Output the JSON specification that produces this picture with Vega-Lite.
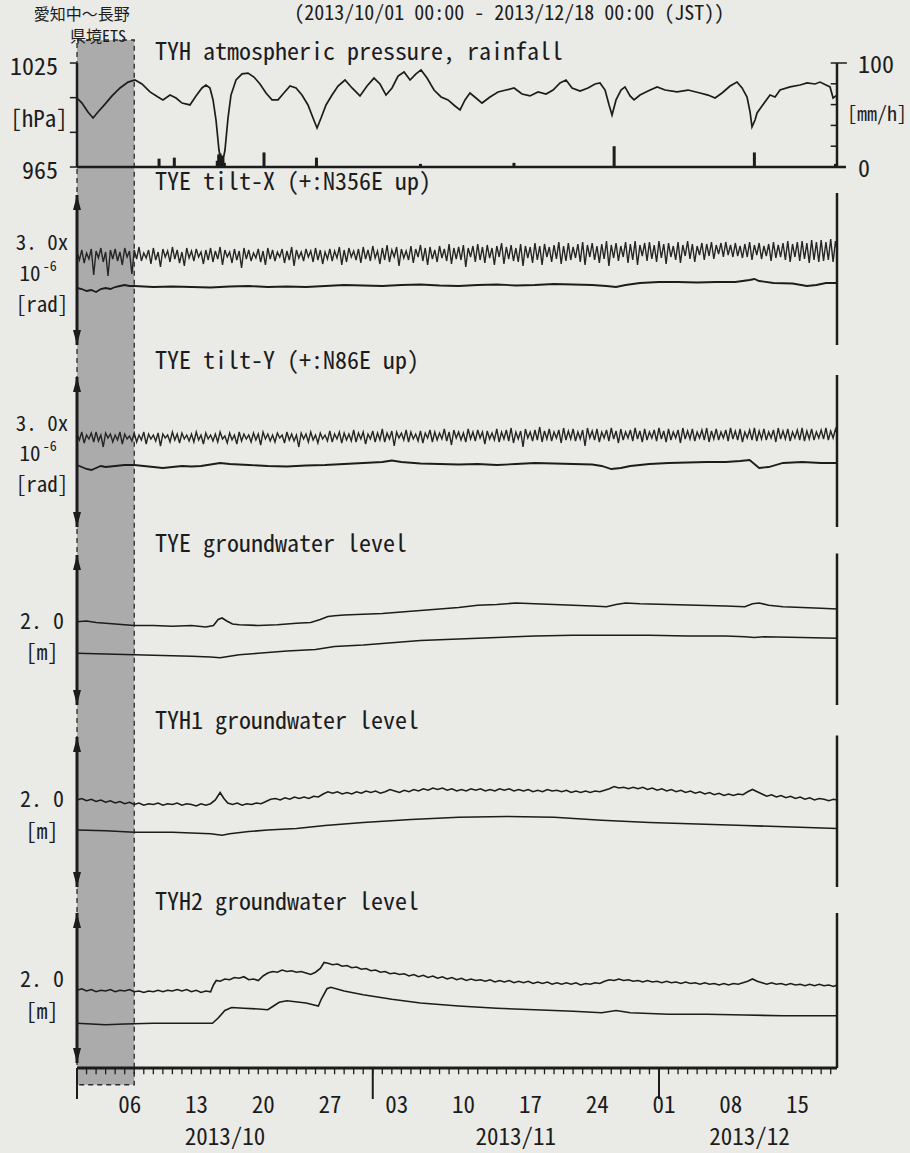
{
"$schema": "https://vega.github.io/schema/vega-lite/v6.json",
"width": 760, "height": 1005,
"autosize": {"type": "none"},
"padding": {"left": 77, "top": 63, "right": 73, "bottom": 85},
"background": "#eaeae7",
"config": {
  "view": {"stroke": null},
  "text": {"font": "Noto Sans Mono CJK JP, DejaVu Sans Mono, monospace", "fontSize": 22, "color": "#1c1c1c"}
},
"data": {"values": [{}]},
"datasets": {
  "ets": [{"d": 0, "d2": 6, "event": "愛知中～長野県境ETS"}],
  "months": [{"d": 0, "mid": 15.5, "m": "2013/10"}, {"d": 31, "mid": 46, "m": "2013/11"}, {"d": 61, "mid": 70.5, "m": "2013/12"}],
  "days": [{"d": 5, "lab": "06"}, {"d": 12, "lab": "13"}, {"d": 19, "lab": "20"}, {"d": 26, "lab": "27"}, {"d": 33, "lab": "03"}, {"d": 40, "lab": "10"}, {"d": 47, "lab": "17"}, {"d": 54, "lab": "24"}, {"d": 61, "lab": "01"}, {"d": 68, "lab": "08"}, {"d": 75, "lab": "15"}],
  "ticks": [{"d":0},{"d":1},{"d":2},{"d":3},{"d":4},{"d":5},{"d":6},{"d":7},{"d":8},{"d":9},{"d":10},{"d":11},{"d":12},{"d":13},{"d":14},{"d":15},{"d":16},{"d":17},{"d":18},{"d":19},{"d":20},{"d":21},{"d":22},{"d":23},{"d":24},{"d":25},{"d":26},{"d":27},{"d":28},{"d":29},{"d":30},{"d":31},{"d":32},{"d":33},{"d":34},{"d":35},{"d":36},{"d":37},{"d":38},{"d":39},{"d":40},{"d":41},{"d":42},{"d":43},{"d":44},{"d":45},{"d":46},{"d":47},{"d":48},{"d":49},{"d":50},{"d":51},{"d":52},{"d":53},{"d":54},{"d":55},{"d":56},{"d":57},{"d":58},{"d":59},{"d":60},{"d":61},{"d":62},{"d":63},{"d":64},{"d":65},{"d":66},{"d":67},{"d":68},{"d":69},{"d":70},{"d":71},{"d":72},{"d":73},{"d":74},{"d":75},{"d":76},{"d":77},{"d":78},{"d":79}],
  "pticks": [{"p": 965, "lab": "965"}, {"p": 985, "lab": ""}, {"p": 1005, "lab": ""}, {"p": 1025, "lab": "1025"}],
  "rticks": [{"r": 0, "lab": "0"}, {"r": 20, "lab": ""}, {"r": 40, "lab": ""}, {"r": 60, "lab": ""}, {"r": 80, "lab": ""}, {"r": 100, "lab": "100"}],
  "press": [
{"d":0,"p":1004.8},{"d":0.52,"p":1001.9},{"d":1.15,"p":996.7},{"d":1.68,"p":993.3},{"d":2.2,"p":996.7},{"d":2.94,"p":1001.3},{"d":3.67,"p":1006.0},{"d":4.51,"p":1010.6},{"d":5.35,"p":1014.0},{"d":6.08,"p":1015.2},{"d":6.81,"p":1012.9},{"d":7.65,"p":1008.3},{"d":8.49,"p":1005.4},{"d":9.01,"p":1003.7},{"d":9.75,"p":1006.5},{"d":10.38,"p":1004.8},{"d":11.01,"p":1001.9},{"d":11.84,"p":1000.8},{"d":12.47,"p":1006.0},{"d":13.1,"p":1010.6},{"d":13.52,"p":1012.3},{"d":13.94,"p":1010.6},{"d":14.26,"p":1003.7},{"d":14.57,"p":992.1},{"d":14.88,"p":974.8},{"d":15.2,"p":965.6},{"d":15.51,"p":974.8},{"d":15.83,"p":993.3},{"d":16.14,"p":1006.5},{"d":16.67,"p":1015.2},{"d":17.3,"p":1018.7},{"d":17.92,"p":1019.2},{"d":18.55,"p":1016.9},{"d":19.18,"p":1012.9},{"d":19.81,"p":1007.7},{"d":20.44,"p":1003.7},{"d":21.07,"p":1003.7},{"d":21.59,"p":1007.1},{"d":22.33,"p":1011.7},{"d":22.96,"p":1010.6},{"d":23.58,"p":1006.5},{"d":24.21,"p":1000.8},{"d":24.74,"p":993.3},{"d":25.16,"p":987.5},{"d":25.58,"p":993.3},{"d":26.1,"p":1000.8},{"d":26.73,"p":1006.5},{"d":27.36,"p":1011.7},{"d":28.09,"p":1015.2},{"d":28.83,"p":1010.6},{"d":29.66,"p":1006.0},{"d":30.4,"p":1011.7},{"d":31.13,"p":1016.3},{"d":31.76,"p":1012.9},{"d":32.39,"p":1006.5},{"d":33.02,"p":1010.6},{"d":33.65,"p":1017.5},{"d":34.28,"p":1019.8},{"d":34.91,"p":1015.2},{"d":35.53,"p":1018.7},{"d":36.06,"p":1021.0},{"d":36.69,"p":1016.3},{"d":37.42,"p":1009.4},{"d":38.16,"p":1005.4},{"d":38.89,"p":1003.7},{"d":39.62,"p":1000.2},{"d":40.15,"p":997.9},{"d":40.67,"p":1003.7},{"d":41.19,"p":1007.7},{"d":41.82,"p":1004.8},{"d":42.45,"p":1001.9},{"d":43.29,"p":1005.4},{"d":44.13,"p":1008.3},{"d":44.97,"p":1009.4},{"d":45.81,"p":1010.6},{"d":46.65,"p":1007.1},{"d":47.48,"p":1006.0},{"d":48.32,"p":1008.3},{"d":49.16,"p":1007.1},{"d":49.9,"p":1009.4},{"d":50.63,"p":1013.5},{"d":51.26,"p":1015.2},{"d":51.89,"p":1010.6},{"d":52.73,"p":1008.8},{"d":53.56,"p":1010.6},{"d":54.3,"p":1012.9},{"d":54.82,"p":1013.5},{"d":55.35,"p":1009.4},{"d":55.77,"p":1000.8},{"d":56.08,"p":995.0},{"d":56.5,"p":1003.7},{"d":57.02,"p":1009.4},{"d":57.44,"p":1011.2},{"d":57.97,"p":1006.0},{"d":58.39,"p":1003.7},{"d":59.01,"p":1006.5},{"d":59.85,"p":1008.8},{"d":60.8,"p":1011.2},{"d":61.64,"p":1009.4},{"d":62.89,"p":1008.3},{"d":64.05,"p":1009.4},{"d":65.3,"p":1007.7},{"d":66.14,"p":1006.5},{"d":66.88,"p":1004.8},{"d":67.61,"p":1007.7},{"d":68.45,"p":1011.7},{"d":69.18,"p":1014.0},{"d":69.71,"p":1010.6},{"d":70.23,"p":1005.4},{"d":70.55,"p":996.7},{"d":70.75,"p":988.1},{"d":71.07,"p":992.1},{"d":71.28,"p":996.2},{"d":71.8,"p":1000.2},{"d":72.64,"p":1006.5},{"d":73.17,"p":1005.4},{"d":73.69,"p":1009.4},{"d":74.74,"p":1011.2},{"d":75.79,"p":1012.3},{"d":76.52,"p":1013.5},{"d":77.36,"p":1012.9},{"d":77.88,"p":1014.0},{"d":78.51,"p":1012.3},{"d":78.93,"p":1011.2},{"d":79.25,"p":1004.8},{"d":79.66,"p":1006.5}],
  "rain": [{"d":8.6,"r":8},{"d":10.2,"r":9},{"d":14.7,"r":6},{"d":14.85,"r":12},{"d":15.0,"r":13},{"d":15.15,"r":11},{"d":15.3,"r":8},{"d":15.45,"r":4},{"d":19.6,"r":14},{"d":25.1,"r":9},{"d":36.0,"r":3},{"d":45.8,"r":4},{"d":56.3,"r":20},{"d":71.0,"r":14},{"d":79.5,"r":3}],
  "fine": [
{"d":0,"tx":186,"ty":186},{"d":0.25,"tx":170,"ty":174},{"d":0.5,"tx":190,"ty":190},{"d":0.75,"tx":164,"ty":168},{"d":1,"tx":184,"ty":184},{"d":1.25,"tx":172,"ty":176},{"d":1.5,"tx":192,"ty":188},{"d":1.75,"tx":140,"ty":170},
{"d":2,"tx":188,"ty":190},{"d":2.25,"tx":174,"ty":172},{"d":2.5,"tx":194,"ty":184},{"d":2.75,"tx":166,"ty":160},{"d":3,"tx":186,"ty":188},{"d":3.25,"tx":138,"ty":178},{"d":3.5,"tx":190,"ty":186},{"d":3.75,"tx":172,"ty":170},
{"d":4,"tx":192,"ty":184},{"d":4.25,"tx":168,"ty":174},{"d":4.5,"tx":186,"ty":190},{"d":4.75,"tx":160,"ty":166},{"d":5,"tx":194,"ty":186},{"d":5.25,"tx":176,"ty":176},{"d":5.5,"tx":188,"ty":182},{"d":5.75,"tx":142,"ty":172},
{"d":6,"tx":190,"ty":188},{"d":6.25,"tx":172,"ty":170},{"d":6.5,"tx":196,"ty":184},{"d":6.75,"tx":168,"ty":174},{"d":7,"tx":184,"ty":190},{"d":7.25,"tx":174,"ty":166},{"d":7.5,"tx":190,"ty":186},{"d":7.75,"tx":162,"ty":176},
{"d":8,"tx":194,"ty":184},{"d":8.25,"tx":170,"ty":172},{"d":8.5,"tx":186,"ty":188},{"d":8.75,"tx":156,"ty":162},{"d":9,"tx":192,"ty":186},{"d":9.25,"tx":176,"ty":178},{"d":9.5,"tx":188,"ty":184},{"d":9.75,"tx":166,"ty":170},
{"d":10,"tx":196,"ty":190},{"d":10.25,"tx":172,"ty":174},{"d":10.5,"tx":190,"ty":186},{"d":10.75,"tx":164,"ty":168},{"d":11,"tx":186,"ty":188},{"d":11.25,"tx":158,"ty":176},{"d":11.5,"tx":194,"ty":184},{"d":11.75,"tx":174,"ty":172},
{"d":12,"tx":188,"ty":186},{"d":12.25,"tx":168,"ty":170},{"d":12.5,"tx":192,"ty":190},{"d":12.75,"tx":176,"ty":174},{"d":13,"tx":186,"ty":184},{"d":13.25,"tx":162,"ty":166},{"d":13.5,"tx":190,"ty":188},{"d":13.75,"tx":170,"ty":176},
{"d":14,"tx":194,"ty":184},{"d":14.25,"tx":166,"ty":172},{"d":14.5,"tx":188,"ty":186},{"d":14.75,"tx":172,"ty":170},{"d":15,"tx":196,"ty":190},{"d":15.25,"tx":160,"ty":176},{"d":15.5,"tx":190,"ty":182},{"d":15.75,"tx":176,"ty":168},
{"d":16,"tx":186,"ty":188},{"d":16.25,"tx":164,"ty":174},{"d":16.5,"tx":192,"ty":184},{"d":16.75,"tx":170,"ty":166},{"d":17,"tx":188,"ty":190},{"d":17.25,"tx":154,"ty":172},{"d":17.5,"tx":194,"ty":186},{"d":17.75,"tx":172,"ty":176},
{"d":18,"tx":190,"ty":184},{"d":18.25,"tx":168,"ty":170},{"d":18.5,"tx":184,"ty":188},{"d":18.75,"tx":174,"ty":174},{"d":19,"tx":192,"ty":186},{"d":19.25,"tx":166,"ty":164},{"d":19.5,"tx":188,"ty":190},{"d":19.75,"tx":160,"ty":176},
{"d":20,"tx":194,"ty":186},{"d":20.25,"tx":172,"ty":172},{"d":20.5,"tx":190,"ty":184},{"d":20.75,"tx":168,"ty":170},{"d":21,"tx":186,"ty":188},{"d":21.25,"tx":176,"ty":178},{"d":21.5,"tx":192,"ty":184},{"d":21.75,"tx":164,"ty":168},
{"d":22,"tx":188,"ty":190},{"d":22.25,"tx":170,"ty":174},{"d":22.5,"tx":196,"ty":186},{"d":22.75,"tx":158,"ty":172},{"d":23,"tx":190,"ty":184},{"d":23.25,"tx":174,"ty":160},{"d":23.5,"tx":186,"ty":188},{"d":23.75,"tx":168,"ty":176},
{"d":24,"tx":192,"ty":186},{"d":24.25,"tx":176,"ty":170},{"d":24.5,"tx":188,"ty":190},{"d":24.75,"tx":166,"ty":174},{"d":25,"tx":194,"ty":184},{"d":25.25,"tx":170,"ty":168},{"d":25.5,"tx":190,"ty":188},{"d":25.75,"tx":162,"ty":176},
{"d":26,"tx":186,"ty":184},{"d":26.25,"tx":172,"ty":172},{"d":26.5,"tx":192,"ty":192},{"d":26.75,"tx":168,"ty":170},{"d":27,"tx":188,"ty":186},{"d":27.25,"tx":174,"ty":176},{"d":27.5,"tx":196,"ty":190},{"d":27.75,"tx":160,"ty":168},
{"d":28,"tx":190,"ty":188},{"d":28.25,"tx":166,"ty":174},{"d":28.5,"tx":194,"ty":186},{"d":28.75,"tx":176,"ty":172},{"d":29,"tx":188,"ty":194},{"d":29.25,"tx":170,"ty":170},{"d":29.5,"tx":192,"ty":188},{"d":29.75,"tx":164,"ty":176},
{"d":30,"tx":196,"ty":190},{"d":30.25,"tx":172,"ty":166},{"d":30.5,"tx":190,"ty":186},{"d":30.75,"tx":168,"ty":176},{"d":31,"tx":198,"ty":192},{"d":31.25,"tx":174,"ty":170},{"d":31.5,"tx":188,"ty":188},{"d":31.75,"tx":162,"ty":174},
{"d":32,"tx":194,"ty":196},{"d":32.25,"tx":170,"ty":170},{"d":32.5,"tx":200,"ty":188},{"d":32.75,"tx":166,"ty":176},{"d":33,"tx":190,"ty":192},{"d":33.25,"tx":176,"ty":162},{"d":33.5,"tx":196,"ty":190},{"d":33.75,"tx":158,"ty":178},
{"d":34,"tx":192,"ty":188},{"d":34.25,"tx":174,"ty":174},{"d":34.5,"tx":188,"ty":194},{"d":34.75,"tx":170,"ty":170},{"d":35,"tx":198,"ty":190},{"d":35.25,"tx":164,"ty":176},{"d":35.5,"tx":192,"ty":186},{"d":35.75,"tx":176,"ty":172},
{"d":36,"tx":200,"ty":192},{"d":36.25,"tx":168,"ty":168},{"d":36.5,"tx":194,"ty":188},{"d":36.75,"tx":160,"ty":178},{"d":37,"tx":196,"ty":194},{"d":37.25,"tx":172,"ty":170},{"d":37.5,"tx":190,"ty":190},{"d":37.75,"tx":166,"ty":174},
{"d":38,"tx":198,"ty":188},{"d":38.25,"tx":174,"ty":176},{"d":38.5,"tx":192,"ty":196},{"d":38.75,"tx":168,"ty":172},{"d":39,"tx":202,"ty":190},{"d":39.25,"tx":162,"ty":164},{"d":39.5,"tx":194,"ty":194},{"d":39.75,"tx":172,"ty":178},
{"d":40,"tx":196,"ty":190},{"d":40.25,"tx":170,"ty":174},{"d":40.5,"tx":200,"ty":188},{"d":40.75,"tx":156,"ty":170},{"d":41,"tx":194,"ty":196},{"d":41.25,"tx":176,"ty":176},{"d":41.5,"tx":198,"ty":190},{"d":41.75,"tx":166,"ty":172},
{"d":42,"tx":202,"ty":194},{"d":42.25,"tx":170,"ty":178},{"d":42.5,"tx":196,"ty":190},{"d":42.75,"tx":164,"ty":166},{"d":43,"tx":200,"ty":192},{"d":43.25,"tx":174,"ty":176},{"d":43.5,"tx":194,"ty":188},{"d":43.75,"tx":160,"ty":174},
{"d":44,"tx":198,"ty":196},{"d":44.25,"tx":176,"ty":170},{"d":44.5,"tx":204,"ty":190},{"d":44.75,"tx":162,"ty":176},{"d":45,"tx":196,"ty":194},{"d":45.25,"tx":172,"ty":172},{"d":45.5,"tx":200,"ty":198},{"d":45.75,"tx":168,"ty":168},
{"d":46,"tx":194,"ty":190},{"d":46.25,"tx":166,"ty":176},{"d":46.5,"tx":202,"ty":192},{"d":46.75,"tx":158,"ty":160},{"d":47,"tx":198,"ty":196},{"d":47.25,"tx":174,"ty":178},{"d":47.5,"tx":196,"ty":190},{"d":47.75,"tx":164,"ty":172},
{"d":48,"tx":204,"ty":194},{"d":48.25,"tx":170,"ty":174},{"d":48.5,"tx":198,"ty":200},{"d":48.75,"tx":160,"ty":170},{"d":49,"tx":202,"ty":192},{"d":49.25,"tx":176,"ty":176},{"d":49.5,"tx":196,"ty":196},{"d":49.75,"tx":166,"ty":172},
{"d":50,"tx":200,"ty":190},{"d":50.25,"tx":172,"ty":178},{"d":50.5,"tx":206,"ty":194},{"d":50.75,"tx":162,"ty":168},{"d":51,"tx":198,"ty":198},{"d":51.25,"tx":168,"ty":174},{"d":51.5,"tx":204,"ty":192},{"d":51.75,"tx":170,"ty":176},
{"d":52,"tx":196,"ty":196},{"d":52.25,"tx":174,"ty":172},{"d":52.5,"tx":202,"ty":190},{"d":52.75,"tx":166,"ty":176},{"d":53,"tx":206,"ty":194},{"d":53.25,"tx":160,"ty":162},{"d":53.5,"tx":200,"ty":198},{"d":53.75,"tx":176,"ty":178},
{"d":54,"tx":204,"ty":192},{"d":54.25,"tx":170,"ty":174},{"d":54.5,"tx":198,"ty":196},{"d":54.75,"tx":164,"ty":170},{"d":55,"tx":202,"ty":190},{"d":55.25,"tx":172,"ty":178},{"d":55.5,"tx":208,"ty":194},{"d":55.75,"tx":158,"ty":172},
{"d":56,"tx":200,"ty":198},{"d":56.25,"tx":174,"ty":176},{"d":56.5,"tx":204,"ty":192},{"d":56.75,"tx":168,"ty":168},{"d":57,"tx":198,"ty":196},{"d":57.25,"tx":176,"ty":174},{"d":57.5,"tx":206,"ty":190},{"d":57.75,"tx":164,"ty":178},
{"d":58,"tx":202,"ty":194},{"d":58.25,"tx":170,"ty":172},{"d":58.5,"tx":208,"ty":198},{"d":58.75,"tx":160,"ty":176},{"d":59,"tx":200,"ty":192},{"d":59.25,"tx":178,"ty":170},{"d":59.5,"tx":204,"ty":196},{"d":59.75,"tx":168,"ty":174},
{"d":60,"tx":206,"ty":190},{"d":60.25,"tx":172,"ty":178},{"d":60.5,"tx":200,"ty":194},{"d":60.75,"tx":166,"ty":172},{"d":61,"tx":208,"ty":198},{"d":61.25,"tx":174,"ty":176},{"d":61.5,"tx":202,"ty":192},{"d":61.75,"tx":162,"ty":170},
{"d":62,"tx":204,"ty":196},{"d":62.25,"tx":176,"ty":174},{"d":62.5,"tx":198,"ty":190},{"d":62.75,"tx":170,"ty":178},{"d":63,"tx":206,"ty":194},{"d":63.25,"tx":164,"ty":168},{"d":63.5,"tx":200,"ty":198},{"d":63.75,"tx":178,"ty":176},
{"d":64,"tx":208,"ty":192},{"d":64.25,"tx":172,"ty":176},{"d":64.5,"tx":202,"ty":196},{"d":64.75,"tx":166,"ty":172},{"d":65,"tx":198,"ty":190},{"d":65.25,"tx":180,"ty":178},{"d":65.5,"tx":204,"ty":194},{"d":65.75,"tx":170,"ty":174},
{"d":66,"tx":202,"ty":198},{"d":66.25,"tx":178,"ty":170},{"d":66.5,"tx":206,"ty":192},{"d":66.75,"tx":172,"ty":176},{"d":67,"tx":200,"ty":196},{"d":67.25,"tx":182,"ty":174},{"d":67.5,"tx":204,"ty":190},{"d":67.75,"tx":176,"ty":178},
{"d":68,"tx":206,"ty":194},{"d":68.25,"tx":180,"ty":172},{"d":68.5,"tx":200,"ty":198},{"d":68.75,"tx":176,"ty":176},{"d":69,"tx":204,"ty":192},{"d":69.25,"tx":178,"ty":174},{"d":69.5,"tx":198,"ty":196},{"d":69.75,"tx":174,"ty":170},
{"d":70,"tx":202,"ty":190},{"d":70.25,"tx":176,"ty":178},{"d":70.5,"tx":206,"ty":194},{"d":70.75,"tx":170,"ty":174},{"d":71,"tx":200,"ty":198},{"d":71.25,"tx":180,"ty":172},{"d":71.5,"tx":204,"ty":192},{"d":71.75,"tx":172,"ty":176},
{"d":72,"tx":198,"ty":196},{"d":72.25,"tx":178,"ty":174},{"d":72.5,"tx":202,"ty":190},{"d":72.75,"tx":168,"ty":178},{"d":73,"tx":206,"ty":194},{"d":73.25,"tx":174,"ty":170},{"d":73.5,"tx":200,"ty":198},{"d":73.75,"tx":176,"ty":176},
{"d":74,"tx":204,"ty":192},{"d":74.25,"tx":170,"ty":176},{"d":74.5,"tx":208,"ty":196},{"d":74.75,"tx":166,"ty":172},{"d":75,"tx":202,"ty":190},{"d":75.25,"tx":176,"ty":178},{"d":75.5,"tx":206,"ty":194},{"d":75.75,"tx":168,"ty":174},
{"d":76,"tx":208,"ty":198},{"d":76.25,"tx":172,"ty":172},{"d":76.5,"tx":204,"ty":192},{"d":76.75,"tx":164,"ty":176},{"d":77,"tx":210,"ty":196},{"d":77.25,"tx":170,"ty":174},{"d":77.5,"tx":206,"ty":190},{"d":77.75,"tx":166,"ty":178},
{"d":78,"tx":210,"ty":194},{"d":78.25,"tx":168,"ty":176},{"d":78.5,"tx":206,"ty":198},{"d":78.75,"tx":170,"ty":174},{"d":79,"tx":212,"ty":192},{"d":79.25,"tx":166,"ty":178},{"d":79.5,"tx":208,"ty":196},{"d":79.66,"tx":190,"ty":186}],
  "tsx": [{"d":0,"v":114},{"d":0.5,"v":112},{"d":1,"v":108},{"d":1.5,"v":110},{"d":2,"v":106},{"d":2.5,"v":112},{"d":3,"v":114},{"d":3.5,"v":112},{"d":4,"v":116},{"d":4.5,"v":118},{"d":5,"v":120},{"d":5.5,"v":118},{"d":6,"v":118},{"d":8,"v":116},{"d":10,"v":117},{"d":12,"v":116},{"d":14,"v":115},{"d":16,"v":117},{"d":18,"v":118},{"d":20,"v":116},{"d":22,"v":117},{"d":24,"v":116},{"d":26,"v":118},{"d":28,"v":120},{"d":30,"v":119},{"d":32,"v":118},{"d":34,"v":120},{"d":36,"v":121},{"d":38,"v":119},{"d":40,"v":118},{"d":42,"v":120},{"d":44,"v":121},{"d":46,"v":119},{"d":48,"v":120},{"d":50,"v":122},{"d":52,"v":121},{"d":54,"v":120},{"d":55.5,"v":118},{"d":56.5,"v":116},{"d":57.5,"v":120},{"d":59,"v":124},{"d":61,"v":126},{"d":63,"v":126},{"d":65,"v":125},{"d":67,"v":126},{"d":69,"v":126},{"d":70.5,"v":130},{"d":71,"v":132},{"d":71.5,"v":128},{"d":73,"v":124},{"d":75,"v":123},{"d":76.5,"v":118},{"d":77.5,"v":120},{"d":78.5,"v":124},{"d":79.66,"v":124}],
  "tsy": [{"d":0,"v":124},{"d":0.5,"v":120},{"d":1,"v":116},{"d":1.5,"v":114},{"d":2,"v":118},{"d":2.5,"v":122},{"d":3,"v":120},{"d":4,"v":122},{"d":5,"v":124},{"d":6,"v":124},{"d":7,"v":122},{"d":8,"v":120},{"d":9,"v":118},{"d":10,"v":120},{"d":11,"v":122},{"d":12,"v":121},{"d":13,"v":122},{"d":14,"v":125},{"d":15,"v":128},{"d":16,"v":126},{"d":18,"v":124},{"d":20,"v":122},{"d":22,"v":121},{"d":24,"v":123},{"d":26,"v":124},{"d":28,"v":126},{"d":30,"v":128},{"d":32,"v":130},{"d":33,"v":133},{"d":34,"v":130},{"d":36,"v":127},{"d":38,"v":126},{"d":40,"v":125},{"d":42,"v":126},{"d":44,"v":124},{"d":46,"v":126},{"d":48,"v":128},{"d":50,"v":127},{"d":52,"v":126},{"d":54,"v":125},{"d":55,"v":122},{"d":56,"v":116},{"d":57,"v":118},{"d":58,"v":122},{"d":60,"v":126},{"d":62,"v":128},{"d":64,"v":129},{"d":66,"v":130},{"d":68,"v":130},{"d":69.5,"v":132},{"d":70.5,"v":134},{"d":71.5,"v":118},{"d":72.5,"v":120},{"d":74,"v":128},{"d":76,"v":130},{"d":78,"v":128},{"d":79.66,"v":128}],
  "tyeu": [{"d":0,"v":111},{"d":1,"v":112},{"d":2,"v":110},{"d":3,"v":109},{"d":4,"v":108},{"d":5,"v":107},{"d":6,"v":106},{"d":8,"v":106},{"d":10,"v":105},{"d":12,"v":106},{"d":13.5,"v":104},{"d":14.3,"v":106},{"d":14.8,"v":114},{"d":15.2,"v":116},{"d":15.7,"v":112},{"d":16.3,"v":108},{"d":17,"v":107},{"d":19,"v":106},{"d":21,"v":107},{"d":23,"v":109},{"d":24.5,"v":110},{"d":25.5,"v":114},{"d":26.3,"v":118},{"d":27,"v":119},{"d":28,"v":120},{"d":30,"v":121},{"d":32,"v":122},{"d":34,"v":124},{"d":36,"v":126},{"d":38,"v":128},{"d":40,"v":130},{"d":42,"v":133},{"d":44,"v":134},{"d":46,"v":136},{"d":48,"v":135},{"d":50,"v":134},{"d":52,"v":133},{"d":54,"v":132},{"d":55.5,"v":131},{"d":56.5,"v":134},{"d":57.5,"v":136},{"d":59,"v":135},{"d":62,"v":134},{"d":65,"v":133},{"d":68,"v":132},{"d":70,"v":131},{"d":70.8,"v":135},{"d":71.5,"v":136},{"d":72.5,"v":133},{"d":74,"v":131},{"d":76,"v":130},{"d":78,"v":129},{"d":79.66,"v":128}],
  "tyel": [{"d":0,"v":69},{"d":3,"v":68},{"d":6,"v":67},{"d":9,"v":66},{"d":12,"v":65},{"d":14,"v":64},{"d":15,"v":63},{"d":15.5,"v":64},{"d":17,"v":67},{"d":19,"v":69},{"d":22,"v":72},{"d":25,"v":74},{"d":27,"v":78},{"d":30,"v":80},{"d":33,"v":83},{"d":36,"v":86},{"d":40,"v":88},{"d":44,"v":90},{"d":48,"v":92},{"d":52,"v":93},{"d":56,"v":93},{"d":60,"v":93},{"d":64,"v":92},{"d":68,"v":92},{"d":70,"v":91},{"d":71,"v":90},{"d":72,"v":91},{"d":76,"v":90},{"d":79.66,"v":89}],
  "h1u": [{"d":0,"v":116},{"d":0.5,"v":118},{"d":1,"v":115},{"d":1.5,"v":117},{"d":2,"v":114},{"d":2.5,"v":116},{"d":3,"v":113},{"d":3.5,"v":115},{"d":4,"v":112},{"d":4.5,"v":114},{"d":5,"v":111},{"d":5.5,"v":113},{"d":6,"v":110},{"d":6.5,"v":112},{"d":7,"v":109},{"d":7.5,"v":111},{"d":8,"v":110},{"d":8.5,"v":112},{"d":9,"v":109},{"d":9.5,"v":111},{"d":10,"v":110},{"d":10.5,"v":112},{"d":11,"v":109},{"d":11.5,"v":111},{"d":12,"v":110},{"d":12.5,"v":108},{"d":13,"v":111},{"d":13.5,"v":109},{"d":14,"v":111},{"d":14.5,"v":116},{"d":15,"v":126},{"d":15.4,"v":118},{"d":15.8,"v":112},{"d":16.3,"v":110},{"d":16.8,"v":112},{"d":17.3,"v":109},{"d":17.8,"v":111},{"d":18.3,"v":110},{"d":18.8,"v":112},{"d":19.3,"v":111},{"d":19.8,"v":114},{"d":20.3,"v":117},{"d":20.8,"v":118},{"d":21.3,"v":116},{"d":21.8,"v":119},{"d":22.3,"v":117},{"d":22.8,"v":120},{"d":23.3,"v":118},{"d":23.8,"v":120},{"d":24.3,"v":118},{"d":24.8,"v":121},{"d":25.3,"v":120},{"d":25.8,"v":124},{"d":26.3,"v":127},{"d":26.8,"v":125},{"d":27.3,"v":127},{"d":27.8,"v":124},{"d":28.3,"v":126},{"d":28.8,"v":124},{"d":29.3,"v":127},{"d":29.8,"v":125},{"d":30.3,"v":128},{"d":30.8,"v":126},{"d":31.3,"v":128},{"d":31.8,"v":125},{"d":32.3,"v":127},{"d":32.8,"v":130},{"d":33.3,"v":128},{"d":33.8,"v":126},{"d":34.3,"v":129},{"d":34.8,"v":127},{"d":35.3,"v":130},{"d":35.8,"v":128},{"d":36.3,"v":131},{"d":36.8,"v":129},{"d":37.3,"v":132},{"d":37.8,"v":130},{"d":38.3,"v":132},{"d":38.8,"v":129},{"d":39.3,"v":131},{"d":39.8,"v":128},{"d":40.3,"v":130},{"d":40.8,"v":128},{"d":41.3,"v":131},{"d":41.8,"v":129},{"d":42.3,"v":131},{"d":42.8,"v":128},{"d":43.3,"v":130},{"d":43.8,"v":128},{"d":44.3,"v":131},{"d":44.8,"v":129},{"d":45.3,"v":131},{"d":45.8,"v":128},{"d":46.3,"v":130},{"d":46.8,"v":128},{"d":47.3,"v":130},{"d":47.8,"v":127},{"d":48.3,"v":129},{"d":48.8,"v":127},{"d":49.3,"v":130},{"d":49.8,"v":128},{"d":50.3,"v":129},{"d":50.8,"v":127},{"d":51.3,"v":129},{"d":51.8,"v":126},{"d":52.3,"v":128},{"d":52.8,"v":126},{"d":53.3,"v":128},{"d":53.8,"v":126},{"d":54.3,"v":128},{"d":54.8,"v":127},{"d":55.3,"v":129},{"d":55.8,"v":131},{"d":56.3,"v":134},{"d":56.8,"v":132},{"d":57.3,"v":133},{"d":57.8,"v":131},{"d":58.3,"v":133},{"d":58.8,"v":131},{"d":59.3,"v":133},{"d":59.8,"v":130},{"d":60.3,"v":132},{"d":60.8,"v":129},{"d":61.3,"v":131},{"d":61.8,"v":128},{"d":62.3,"v":130},{"d":62.8,"v":127},{"d":63.3,"v":129},{"d":63.8,"v":126},{"d":64.3,"v":128},{"d":64.8,"v":125},{"d":65.3,"v":127},{"d":65.8,"v":124},{"d":66.3,"v":126},{"d":66.8,"v":123},{"d":67.3,"v":125},{"d":67.8,"v":122},{"d":68.3,"v":124},{"d":68.8,"v":122},{"d":69.3,"v":124},{"d":69.8,"v":123},{"d":70.3,"v":127},{"d":70.8,"v":130},{"d":71.3,"v":127},{"d":71.8,"v":124},{"d":72.3,"v":121},{"d":72.8,"v":123},{"d":73.3,"v":120},{"d":73.8,"v":122},{"d":74.3,"v":119},{"d":74.8,"v":121},{"d":75.3,"v":118},{"d":75.8,"v":120},{"d":76.3,"v":117},{"d":76.8,"v":119},{"d":77.3,"v":116},{"d":77.8,"v":118},{"d":78.3,"v":117},{"d":78.8,"v":115},{"d":79.3,"v":117},{"d":79.66,"v":116}],
  "h1l": [{"d":0,"v":76},{"d":3,"v":75},{"d":6,"v":73},{"d":10,"v":73},{"d":14,"v":71},{"d":15.2,"v":69},{"d":16,"v":71},{"d":18,"v":74},{"d":20,"v":76},{"d":23,"v":78},{"d":26,"v":82},{"d":30,"v":86},{"d":35,"v":90},{"d":40,"v":93},{"d":45,"v":94},{"d":50,"v":93},{"d":55,"v":89},{"d":60,"v":86},{"d":65,"v":84},{"d":70,"v":82},{"d":75,"v":80},{"d":79.66,"v":78}],
  "h2u": [{"d":0,"v":97},{"d":0.5,"v":99},{"d":1,"v":96},{"d":1.5,"v":98},{"d":2,"v":95},{"d":2.5,"v":97},{"d":3,"v":96},{"d":3.5,"v":98},{"d":4,"v":95},{"d":4.5,"v":97},{"d":5,"v":96},{"d":5.5,"v":98},{"d":6,"v":95},{"d":6.5,"v":96},{"d":7,"v":94},{"d":7.5,"v":96},{"d":8,"v":95},{"d":8.5,"v":97},{"d":9,"v":95},{"d":9.5,"v":97},{"d":10,"v":96},{"d":10.5,"v":98},{"d":11,"v":96},{"d":11.5,"v":98},{"d":12,"v":95},{"d":12.5,"v":97},{"d":13,"v":94},{"d":13.5,"v":96},{"d":14,"v":95},{"d":14.3,"v":104},{"d":14.6,"v":110},{"d":15,"v":109},{"d":15.5,"v":112},{"d":16,"v":111},{"d":16.5,"v":114},{"d":17,"v":113},{"d":17.5,"v":115},{"d":18,"v":111},{"d":18.5,"v":112},{"d":19,"v":110},{"d":19.5,"v":116},{"d":20,"v":120},{"d":20.5,"v":122},{"d":21,"v":121},{"d":21.5,"v":124},{"d":22,"v":122},{"d":22.5,"v":123},{"d":23,"v":121},{"d":23.5,"v":122},{"d":24,"v":120},{"d":24.5,"v":118},{"d":25,"v":121},{"d":25.5,"v":126},{"d":25.9,"v":134},{"d":26.3,"v":133},{"d":26.8,"v":131},{"d":27.3,"v":132},{"d":27.8,"v":129},{"d":28.3,"v":130},{"d":28.8,"v":127},{"d":29.3,"v":128},{"d":29.8,"v":125},{"d":30.3,"v":126},{"d":30.8,"v":123},{"d":31.3,"v":124},{"d":31.8,"v":121},{"d":32.3,"v":122},{"d":32.8,"v":119},{"d":33.3,"v":120},{"d":33.8,"v":118},{"d":34.3,"v":119},{"d":34.8,"v":116},{"d":35.3,"v":118},{"d":35.8,"v":115},{"d":36.3,"v":117},{"d":36.8,"v":114},{"d":37.3,"v":116},{"d":37.8,"v":113},{"d":38.3,"v":115},{"d":38.8,"v":112},{"d":39.3,"v":114},{"d":39.8,"v":111},{"d":40.3,"v":113},{"d":40.8,"v":110},{"d":41.3,"v":112},{"d":41.8,"v":110},{"d":42.3,"v":111},{"d":42.8,"v":109},{"d":43.3,"v":111},{"d":43.8,"v":108},{"d":44.3,"v":110},{"d":44.8,"v":108},{"d":45.3,"v":110},{"d":45.8,"v":107},{"d":46.3,"v":109},{"d":46.8,"v":107},{"d":47.3,"v":109},{"d":47.8,"v":106},{"d":48.3,"v":108},{"d":48.8,"v":106},{"d":49.3,"v":108},{"d":49.8,"v":105},{"d":50.3,"v":107},{"d":50.8,"v":105},{"d":51.3,"v":107},{"d":51.8,"v":105},{"d":52.3,"v":107},{"d":52.8,"v":104},{"d":53.3,"v":106},{"d":53.8,"v":105},{"d":54.3,"v":107},{"d":54.8,"v":106},{"d":55.3,"v":109},{"d":55.8,"v":111},{"d":56.3,"v":110},{"d":56.8,"v":112},{"d":57.3,"v":110},{"d":57.8,"v":111},{"d":58.3,"v":109},{"d":58.8,"v":110},{"d":59.3,"v":108},{"d":59.8,"v":110},{"d":60.3,"v":108},{"d":60.8,"v":109},{"d":61.3,"v":107},{"d":61.8,"v":109},{"d":62.3,"v":107},{"d":62.8,"v":108},{"d":63.3,"v":106},{"d":63.8,"v":108},{"d":64.3,"v":106},{"d":64.8,"v":107},{"d":65.3,"v":105},{"d":65.8,"v":107},{"d":66.3,"v":105},{"d":66.8,"v":106},{"d":67.3,"v":104},{"d":67.8,"v":106},{"d":68.3,"v":104},{"d":68.8,"v":106},{"d":69.3,"v":105},{"d":69.8,"v":107},{"d":70.3,"v":109},{"d":70.8,"v":112},{"d":71.3,"v":109},{"d":71.8,"v":107},{"d":72.3,"v":105},{"d":72.8,"v":107},{"d":73.3,"v":105},{"d":73.8,"v":106},{"d":74.3,"v":104},{"d":74.8,"v":106},{"d":75.3,"v":104},{"d":75.8,"v":105},{"d":76.3,"v":103},{"d":76.8,"v":105},{"d":77.3,"v":103},{"d":77.8,"v":105},{"d":78.3,"v":103},{"d":78.8,"v":104},{"d":79.3,"v":102},{"d":79.66,"v":104}],
  "h2l": [{"d":0,"v":53},{"d":1.5,"v":52},{"d":3,"v":51},{"d":5,"v":52},{"d":8,"v":53},{"d":11,"v":53},{"d":13,"v":53},{"d":14.2,"v":53},{"d":14.8,"v":60},{"d":15.5,"v":70},{"d":16.2,"v":74},{"d":17.5,"v":73},{"d":19,"v":72},{"d":20,"v":71},{"d":20.6,"v":76},{"d":21.2,"v":81},{"d":22,"v":83},{"d":24,"v":80},{"d":25.3,"v":76},{"d":25.6,"v":85},{"d":26.2,"v":99},{"d":26.6,"v":101},{"d":28,"v":96},{"d":30,"v":91},{"d":33,"v":85},{"d":36,"v":80},{"d":40,"v":76},{"d":44,"v":73},{"d":48,"v":71},{"d":52,"v":69},{"d":55,"v":67},{"d":56.5,"v":70},{"d":58,"v":67},{"d":62,"v":65},{"d":66,"v":65},{"d":70,"v":64},{"d":74,"v":63},{"d":79.66,"v":63}]
},
"layer": [
  {"layer": [
    {"data": {"name": "ets"}, "mark": {"type": "rect", "fill": "#ababab", "stroke": "#2a2a2a", "strokeDash": [5, 4], "strokeWidth": 1.3},
     "encoding": {
       "x": {"field": "d", "type": "quantitative", "scale": {"domain": [0, 79.66], "nice": false, "zero": false}, "axis": null},
       "x2": {"field": "d2"},
       "y": {"datum": 1364, "type": "quantitative", "scale": {"domain": [-6.67, 1333.33], "nice": false, "zero": false}, "axis": null},
       "y2": {"datum": -29}}},
    {"mark": {"type": "rule", "strokeWidth": 3, "color": "#1c1c1c"},
     "encoding": {"x": {"datum": 0, "axis": null}, "x2": {"datum": 79.66}, "y": {"datum": -6.67, "axis": null}}},
    {"data": {"name": "ticks"}, "mark": {"type": "rule", "strokeWidth": 1.3, "color": "#1c1c1c"},
     "encoding": {"x": {"field": "d", "type": "quantitative", "axis": null}, "y": {"datum": -6.67, "axis": null}, "y2": {"datum": -15}}},
    {"data": {"name": "months"}, "mark": {"type": "rule", "strokeWidth": 2, "color": "#1c1c1c"},
     "encoding": {"x": {"field": "d", "type": "quantitative", "axis": null}, "y": {"datum": -6.67, "axis": null}, "y2": {"datum": -48}}},
    {"data": {"name": "months"}, "mark": {"type": "text", "fontSize": 23, "baseline": "middle"},
     "encoding": {"x": {"field": "mid", "type": "quantitative", "axis": null}, "y": {"datum": -100, "axis": null}, "text": {"field": "m"}}},
    {"data": {"name": "days"}, "mark": {"type": "text", "fontSize": 23, "baseline": "middle", "dx": 5},
     "encoding": {"x": {"field": "d", "type": "quantitative", "axis": null}, "y": {"datum": -57, "axis": null}, "text": {"field": "lab"}}}
  ]},
  {"layer": [
    {"data": {"name": "press"}, "mark": {"type": "line", "color": "#1c1c1c", "strokeWidth": 1.7},
     "encoding": {"x": {"field": "d", "type": "quantitative", "axis": null},
       "y": {"field": "p", "type": "quantitative", "scale": {"domain": [445.2, 1025], "nice": false, "zero": false}, "axis": null}}},
    {"data": {"name": "pticks"}, "mark": {"type": "rule", "strokeWidth": 1.5, "color": "#1c1c1c"},
     "encoding": {"x": {"datum": -0.75, "axis": null}, "x2": {"datum": 0}, "y": {"field": "p", "type": "quantitative", "axis": null}}},
    {"data": {"name": "pticks"}, "mark": {"type": "text", "align": "right", "baseline": "middle", "fontSize": 24, "dy": 5},
     "encoding": {"x": {"datum": -1.99, "axis": null}, "y": {"field": "p", "type": "quantitative", "axis": null}, "text": {"field": "lab"}}},
    {"mark": {"type": "rule", "strokeWidth": 2.5, "color": "#1c1c1c"},
     "encoding": {"x": {"datum": 0, "axis": null}, "y": {"datum": 965, "axis": null}, "y2": {"datum": 1025}}},
    {"mark": {"type": "rule", "strokeWidth": 2.5, "color": "#1c1c1c"},
     "encoding": {"x": {"datum": 0, "axis": null}, "x2": {"datum": 80.6}, "y": {"datum": 965, "axis": null}}},
    {"mark": {"type": "text", "text": "[hPa]", "align": "center", "baseline": "middle", "fontSize": 23},
     "encoding": {"x": {"datum": -3.98, "axis": null}, "y": {"datum": 992.1, "axis": null}}},
    {"mark": {"type": "text", "text": "(2013/10/01 00:00 - 2013/12/18 00:00 (JST))", "align": "center", "baseline": "top", "fontSize": 20},
     "encoding": {"x": {"datum": 45.3, "axis": null}, "y": {"datum": 1059, "axis": null}}},
    {"mark": {"type": "text", "text": "愛知中～長野", "align": "center", "baseline": "middle", "fontSize": 16},
     "encoding": {"x": {"datum": 0.5, "axis": null}, "y": {"datum": 1052.7, "axis": null}}},
    {"mark": {"type": "text", "text": "県境ETS", "align": "center", "baseline": "middle", "fontSize": 16},
     "encoding": {"x": {"datum": 2.2, "axis": null}, "y": {"datum": 1040, "axis": null}}},
    {"mark": {"type": "text", "text": "TYH atmospheric pressure, rainfall", "align": "left", "baseline": "middle", "fontSize": 24},
     "encoding": {"x": {"datum": 8.18, "axis": null}, "y": {"datum": 1030.8, "axis": null}}}
  ]},
  {"layer": [
    {"data": {"name": "rain"}, "mark": {"type": "rule", "strokeWidth": 3, "color": "#1c1c1c"},
     "encoding": {"x": {"field": "d", "type": "quantitative", "axis": null},
       "y": {"field": "r", "type": "quantitative", "scale": {"domain": [-866.3, 100], "nice": false, "zero": false}, "axis": null},
       "y2": {"datum": 0}}},
    {"data": {"name": "rticks"}, "mark": {"type": "rule", "strokeWidth": 1.5, "color": "#1c1c1c"},
     "encoding": {"x": {"datum": 79.0, "axis": null}, "x2": {"datum": 79.66}, "y": {"field": "r", "type": "quantitative", "axis": null}}},
    {"data": {"name": "rticks"}, "mark": {"type": "text", "align": "left", "baseline": "middle", "fontSize": 24, "dy": 3},
     "encoding": {"x": {"datum": 81.87, "axis": null}, "y": {"field": "r", "type": "quantitative", "axis": null}, "text": {"field": "lab"}}},
    {"mark": {"type": "rule", "strokeWidth": 1.5, "color": "#1c1c1c"},
     "encoding": {"x": {"datum": 79.66, "axis": null}, "x2": {"datum": 80.7}, "y": {"datum": 100, "axis": null}}},
    {"mark": {"type": "rule", "strokeWidth": 2.5, "color": "#1c1c1c"},
     "encoding": {"x": {"datum": 79.66, "axis": null}, "y": {"datum": 0, "axis": null}, "y2": {"datum": 100}}},
    {"mark": {"type": "text", "text": "[mm/h]", "align": "left", "baseline": "middle", "fontSize": 20},
     "encoding": {"x": {"datum": 80.7, "axis": null}, "y": {"datum": 50, "axis": null}}}
  ]},
  {"layer": [
    {"data": {"name": "fine"}, "mark": {"type": "line", "color": "#262626", "strokeWidth": 1.4},
     "encoding": {"x": {"field": "d", "type": "quantitative", "axis": null},
       "y": {"field": "tx", "type": "quantitative", "scale": {"domain": [-1446, 564], "nice": false, "zero": false}, "axis": null}}},
    {"data": {"name": "tsx"}, "mark": {"type": "line", "color": "#1c1c1c", "strokeWidth": 1.8},
     "encoding": {"x": {"field": "d", "type": "quantitative", "axis": null}, "y": {"field": "v", "type": "quantitative", "axis": null}}},
    {"mark": {"type": "rule", "strokeWidth": 3, "color": "#1c1c1c"},
     "encoding": {"x": {"datum": 0, "axis": null}, "y": {"datum": 0, "axis": null}, "y2": {"datum": 300}}},
    {"mark": {"type": "point", "shape": "M0,0L0.4,1.5L-0.4,1.5Z", "filled": true, "size": 400, "color": "#1c1c1c", "opacity": 1},
     "encoding": {"x": {"datum": 0, "axis": null}, "y": {"datum": 300, "axis": null}}},
    {"mark": {"type": "point", "shape": "M0,0L0.4,-1.5L-0.4,-1.5Z", "filled": true, "size": 400, "color": "#1c1c1c", "opacity": 1},
     "encoding": {"x": {"datum": 0, "axis": null}, "y": {"datum": 0, "axis": null}}},
    {"mark": {"type": "rule", "strokeWidth": 2.5, "color": "#1c1c1c"},
     "encoding": {"x": {"datum": 79.66, "axis": null}, "y": {"datum": 0, "axis": null}, "y2": {"datum": 304}}},
    {"mark": {"type": "text", "text": "TYE tilt-X (+:N356E up)", "align": "left", "baseline": "middle", "fontSize": 24},
     "encoding": {"x": {"datum": 8.18, "axis": null}, "y": {"datum": 324, "axis": null}}},
    {"mark": {"type": "text", "text": "3. 0x", "align": "center", "baseline": "middle", "fontSize": 21},
     "encoding": {"x": {"datum": -3.67, "axis": null}, "y": {"datum": 202, "axis": null}}},
    {"mark": {"type": "text", "text": "10", "align": "center", "baseline": "middle", "fontSize": 21},
     "encoding": {"x": {"datum": -4.93, "axis": null}, "y": {"datum": 140, "axis": null}}},
    {"mark": {"type": "text", "text": "-6", "align": "left", "baseline": "middle", "fontSize": 14, "dy": -8},
     "encoding": {"x": {"datum": -3.6, "axis": null}, "y": {"datum": 140, "axis": null}}},
    {"mark": {"type": "text", "text": "[rad]", "align": "center", "baseline": "middle", "fontSize": 21},
     "encoding": {"x": {"datum": -3.67, "axis": null}, "y": {"datum": 78, "axis": null}}}
  ]},
  {"layer": [
    {"data": {"name": "fine"}, "mark": {"type": "line", "color": "#262626", "strokeWidth": 1.4},
     "encoding": {"x": {"field": "d", "type": "quantitative", "axis": null},
       "y": {"field": "ty", "type": "quantitative", "scale": {"domain": [-1082, 928], "nice": false, "zero": false}, "axis": null}}},
    {"data": {"name": "tsy"}, "mark": {"type": "line", "color": "#1c1c1c", "strokeWidth": 1.8},
     "encoding": {"x": {"field": "d", "type": "quantitative", "axis": null}, "y": {"field": "v", "type": "quantitative", "axis": null}}},
    {"mark": {"type": "rule", "strokeWidth": 3, "color": "#1c1c1c"},
     "encoding": {"x": {"datum": 0, "axis": null}, "y": {"datum": 0, "axis": null}, "y2": {"datum": 300}}},
    {"mark": {"type": "point", "shape": "M0,0L0.4,1.5L-0.4,1.5Z", "filled": true, "size": 400, "color": "#1c1c1c", "opacity": 1},
     "encoding": {"x": {"datum": 0, "axis": null}, "y": {"datum": 300, "axis": null}}},
    {"mark": {"type": "point", "shape": "M0,0L0.4,-1.5L-0.4,-1.5Z", "filled": true, "size": 400, "color": "#1c1c1c", "opacity": 1},
     "encoding": {"x": {"datum": 0, "axis": null}, "y": {"datum": 0, "axis": null}}},
    {"mark": {"type": "rule", "strokeWidth": 2.5, "color": "#1c1c1c"},
     "encoding": {"x": {"datum": 79.66, "axis": null}, "y": {"datum": 0, "axis": null}, "y2": {"datum": 304}}},
    {"mark": {"type": "text", "text": "TYE tilt-Y (+:N86E up)", "align": "left", "baseline": "middle", "fontSize": 24},
     "encoding": {"x": {"datum": 8.18, "axis": null}, "y": {"datum": 330, "axis": null}}},
    {"mark": {"type": "text", "text": "3. 0x", "align": "center", "baseline": "middle", "fontSize": 21},
     "encoding": {"x": {"datum": -3.67, "axis": null}, "y": {"datum": 204, "axis": null}}},
    {"mark": {"type": "text", "text": "10", "align": "center", "baseline": "middle", "fontSize": 21},
     "encoding": {"x": {"datum": -4.93, "axis": null}, "y": {"datum": 144, "axis": null}}},
    {"mark": {"type": "text", "text": "-6", "align": "left", "baseline": "middle", "fontSize": 14, "dy": -8},
     "encoding": {"x": {"datum": -3.6, "axis": null}, "y": {"datum": 144, "axis": null}}},
    {"mark": {"type": "text", "text": "[rad]", "align": "center", "baseline": "middle", "fontSize": 21},
     "encoding": {"x": {"datum": -3.67, "axis": null}, "y": {"datum": 82, "axis": null}}}
  ]},
  {"layer": [
    {"data": {"name": "tyeu"}, "mark": {"type": "line", "color": "#1c1c1c", "strokeWidth": 1.6},
     "encoding": {"x": {"field": "d", "type": "quantitative", "axis": null},
       "y": {"field": "v", "type": "quantitative", "scale": {"domain": [-484, 856], "nice": false, "zero": false}, "axis": null}}},
    {"data": {"name": "tyel"}, "mark": {"type": "line", "color": "#1c1c1c", "strokeWidth": 1.6},
     "encoding": {"x": {"field": "d", "type": "quantitative", "axis": null}, "y": {"field": "v", "type": "quantitative", "axis": null}}},
    {"mark": {"type": "rule", "strokeWidth": 3, "color": "#1c1c1c"},
     "encoding": {"x": {"datum": 0, "axis": null}, "y": {"datum": 0, "axis": null}, "y2": {"datum": 200}}},
    {"mark": {"type": "point", "shape": "M0,0L0.4,1.5L-0.4,1.5Z", "filled": true, "size": 400, "color": "#1c1c1c", "opacity": 1},
     "encoding": {"x": {"datum": 0, "axis": null}, "y": {"datum": 200, "axis": null}}},
    {"mark": {"type": "point", "shape": "M0,0L0.4,-1.5L-0.4,-1.5Z", "filled": true, "size": 400, "color": "#1c1c1c", "opacity": 1},
     "encoding": {"x": {"datum": 0, "axis": null}, "y": {"datum": 0, "axis": null}}},
    {"mark": {"type": "rule", "strokeWidth": 2.5, "color": "#1c1c1c"},
     "encoding": {"x": {"datum": 79.66, "axis": null}, "y": {"datum": 0, "axis": null}, "y2": {"datum": 202}}},
    {"mark": {"type": "text", "text": "TYE groundwater level", "align": "left", "baseline": "middle", "fontSize": 24},
     "encoding": {"x": {"datum": 8.18, "axis": null}, "y": {"datum": 213, "axis": null}}},
    {"mark": {"type": "text", "text": "2. 0", "align": "center", "baseline": "middle"},
     "encoding": {"x": {"datum": -3.67, "axis": null}, "y": {"datum": 110.7, "axis": null}}},
    {"mark": {"type": "text", "text": "[m]", "align": "center", "baseline": "middle"},
     "encoding": {"x": {"datum": -3.67, "axis": null}, "y": {"datum": 69.3, "axis": null}}}
  ]},
  {"layer": [
    {"data": {"name": "h1u"}, "mark": {"type": "line", "color": "#1c1c1c", "strokeWidth": 1.6},
     "encoding": {"x": {"field": "d", "type": "quantitative", "axis": null},
       "y": {"field": "v", "type": "quantitative", "scale": {"domain": [-241.33, 1098.67], "nice": false, "zero": false}, "axis": null}}},
    {"data": {"name": "h1l"}, "mark": {"type": "line", "color": "#1c1c1c", "strokeWidth": 1.6},
     "encoding": {"x": {"field": "d", "type": "quantitative", "axis": null}, "y": {"field": "v", "type": "quantitative", "axis": null}}},
    {"mark": {"type": "rule", "strokeWidth": 3, "color": "#1c1c1c"},
     "encoding": {"x": {"datum": 0, "axis": null}, "y": {"datum": 0, "axis": null}, "y2": {"datum": 200}}},
    {"mark": {"type": "point", "shape": "M0,0L0.4,1.5L-0.4,1.5Z", "filled": true, "size": 400, "color": "#1c1c1c", "opacity": 1},
     "encoding": {"x": {"datum": 0, "axis": null}, "y": {"datum": 200, "axis": null}}},
    {"mark": {"type": "point", "shape": "M0,0L0.4,-1.5L-0.4,-1.5Z", "filled": true, "size": 400, "color": "#1c1c1c", "opacity": 1},
     "encoding": {"x": {"datum": 0, "axis": null}, "y": {"datum": 0, "axis": null}}},
    {"mark": {"type": "rule", "strokeWidth": 2.5, "color": "#1c1c1c"},
     "encoding": {"x": {"datum": 79.66, "axis": null}, "y": {"datum": 0, "axis": null}, "y2": {"datum": 202}}},
    {"mark": {"type": "text", "text": "TYH1 groundwater level", "align": "left", "baseline": "middle", "fontSize": 24},
     "encoding": {"x": {"datum": 8.18, "axis": null}, "y": {"datum": 220, "axis": null}}},
    {"mark": {"type": "text", "text": "2. 0", "align": "center", "baseline": "middle"},
     "encoding": {"x": {"datum": -3.67, "axis": null}, "y": {"datum": 116, "axis": null}}},
    {"mark": {"type": "text", "text": "[m]", "align": "center", "baseline": "middle"},
     "encoding": {"x": {"datum": -3.67, "axis": null}, "y": {"datum": 73.3, "axis": null}}}
  ]},
  {"layer": [
    {"data": {"name": "h2u"}, "mark": {"type": "line", "color": "#1c1c1c", "strokeWidth": 1.6},
     "encoding": {"x": {"field": "d", "type": "quantitative", "axis": null},
       "y": {"field": "v", "type": "quantitative", "scale": {"domain": [-6.67, 1333.33], "nice": false, "zero": false}, "axis": null}}},
    {"data": {"name": "h2l"}, "mark": {"type": "line", "color": "#1c1c1c", "strokeWidth": 1.6},
     "encoding": {"x": {"field": "d", "type": "quantitative", "axis": null}, "y": {"field": "v", "type": "quantitative", "axis": null}}},
    {"mark": {"type": "rule", "strokeWidth": 3, "color": "#1c1c1c"},
     "encoding": {"x": {"datum": 0, "axis": null}, "y": {"datum": 0, "axis": null}, "y2": {"datum": 200}}},
    {"mark": {"type": "point", "shape": "M0,0L0.4,1.5L-0.4,1.5Z", "filled": true, "size": 400, "color": "#1c1c1c", "opacity": 1},
     "encoding": {"x": {"datum": 0, "axis": null}, "y": {"datum": 200, "axis": null}}},
    {"mark": {"type": "point", "shape": "M0,0L0.4,-1.5L-0.4,-1.5Z", "filled": true, "size": 400, "color": "#1c1c1c", "opacity": 1},
     "encoding": {"x": {"datum": 0, "axis": null}, "y": {"datum": 0, "axis": null}}},
    {"mark": {"type": "rule", "strokeWidth": 2.5, "color": "#1c1c1c"},
     "encoding": {"x": {"datum": 79.66, "axis": null}, "y": {"datum": -6.67, "axis": null}, "y2": {"datum": 200}}},
    {"mark": {"type": "text", "text": "TYH2 groundwater level", "align": "left", "baseline": "middle", "fontSize": 24},
     "encoding": {"x": {"datum": 8.18, "axis": null}, "y": {"datum": 213.3, "axis": null}}},
    {"mark": {"type": "text", "text": "2. 0", "align": "center", "baseline": "middle"},
     "encoding": {"x": {"datum": -3.67, "axis": null}, "y": {"datum": 110.7, "axis": null}}},
    {"mark": {"type": "text", "text": "[m]", "align": "center", "baseline": "middle"},
     "encoding": {"x": {"datum": -3.67, "axis": null}, "y": {"datum": 68, "axis": null}}}
  ]}
],
"resolve": {"scale": {"y": "independent"}}
}
